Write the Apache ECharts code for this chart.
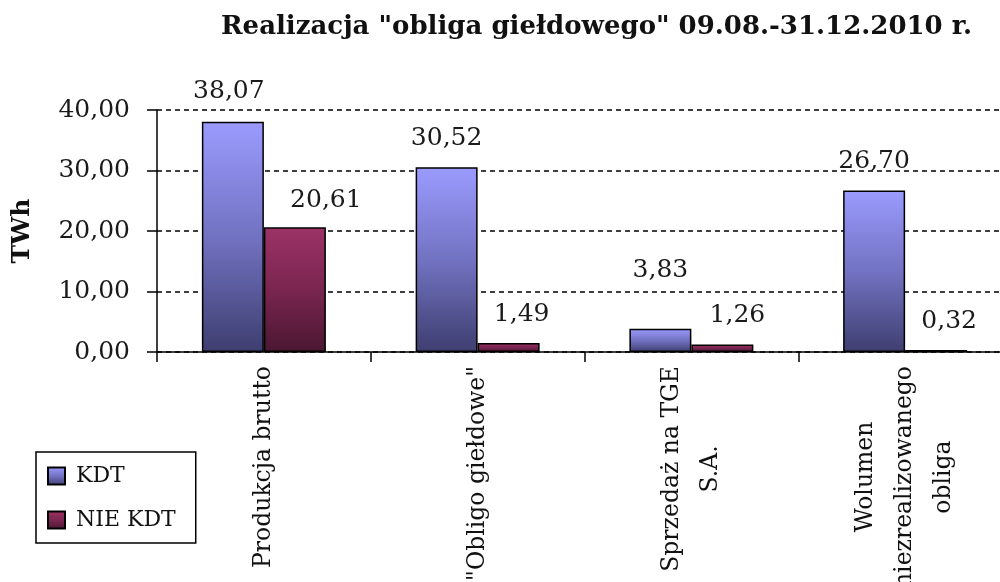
<!DOCTYPE html>
<html>
<head>
<meta charset="utf-8">
<script src="https://cdn.jsdelivr.net/npm/echarts@6/dist/echarts.min.js"></script>
<style>
html,body{margin:0;padding:0;background:#fff;}
#chart{width:1000px;height:582px;}
</style>
</head>
<body>
<div id="chart"></div>
<script>
const titleText = 'Realizacja "obliga giełdowego" 09.08.-31.12.2010 r.';
const categories = ['Produkcja brutto', '"Obligo giełdowe"', 'Sprzedaż na TGE\nS.A.', 'Wolumen\nniezrealizowanego\nobliga'];
const seriesNames = ['KDT', 'NIE KDT'];
const kdtValues = [38.07, 30.52, 3.83, 26.70];
const nieKdtValues = [20.61, 1.49, 1.26, 0.32];
const yMin = 0, yMax = 40, yStep = 10;

// label nudges (style only)
const kdtLabelShift = [[-4, -2], [0, 0], [0, -30], [0, 0]];
const nieLabelShift = [[31, 2], [13, 0], [15, 0], [13, 0]];

const FONT = 'DejaVu Serif';
const fmt = v => Number(v).toFixed(2).replace('.', ',');

function grad(top, mid, bottom) {
  return new echarts.graphic.LinearGradient(0, 0, 0, 1, [
    {offset: 0, color: top}, {offset: 0.5, color: mid}, {offset: 1, color: bottom}
  ]);
}

const chart = echarts.init(document.getElementById('chart'), null, {renderer: 'canvas'});
const labelBase = {
  show: true, position: 'top', distance: 16,
  fontFamily: FONT, fontSize: 25, color: '#1a1a1a',
  formatter: p => fmt(p.value)
};
chart.setOption({
  animation: false,
  backgroundColor: '#fff',
  title: {
    text: titleText, left: 216, top: 9,
    textStyle: {fontFamily: FONT, fontWeight: 'bold', fontSize: 26, color: '#111'}
  },
  legend: {
    orient: 'vertical', left: 36, top: 452,
    padding: [13, 20, 12, 11],
    itemWidth: 17, itemHeight: 17, itemGap: 22,
    borderColor: '#000', borderWidth: 1.5,
    icon: 'rect',
    textStyle: {fontFamily: FONT, fontSize: 22, color: '#111', padding: [0, 0, 0, 6]},
    data: seriesNames
  },
  grid: {left: 157, right: -12, top: 110, bottom: 230, containLabel: false, outerBoundsMode: 'none'},
  xAxis: {
    type: 'category', data: categories,
    axisLine: {lineStyle: {color: '#000', width: 1.5}},
    axisTick: {show: true, length: 10, lineStyle: {color: '#000', width: 1.5}},
    axisLabel: {
      rotate: 90, margin: 14, interval: 0,
      fontFamily: FONT, fontSize: 23.5, color: '#111',
      formatter: v => v.split('\n').map(l => '{c|' + l + '}').join('\n'),
      rich: {c: {align: 'center', fontFamily: FONT, fontSize: 23.5, lineHeight: 39, color: '#111'}}
    }
  },
  yAxis: {
    type: 'value', min: yMin, max: yMax, interval: yStep,
    name: 'TWh', nameLocation: 'middle', nameGap: 122, nameRotate: 90,
    nameTextStyle: {fontFamily: FONT, fontWeight: 'bold', fontSize: 25, color: '#111'},
    axisLine: {show: true, lineStyle: {color: '#000', width: 1.5}},
    axisTick: {show: true, length: 10, lineStyle: {color: '#000', width: 1.5}},
    axisLabel: {margin: 27, fontFamily: FONT, fontSize: 25, color: '#1a1a1a', formatter: v => fmt(v)},
    splitLine: {show: true, lineStyle: {color: '#000', type: [5, 4], width: 1.5}}
  },
  series: [
    {
      name: seriesNames[0], type: 'bar', barWidth: 62, barGap: '0%',
      itemStyle: {color: grad('#9b9bff', '#7272c2', '#3e3e70'), borderColor: '#000', borderWidth: 1.5},
      label: labelBase,
      data: kdtValues.map((v, i) => ({value: v, label: {offset: kdtLabelShift[i]}}))
    },
    {
      name: seriesNames[1], type: 'bar', barWidth: 62, barGap: '0%',
      itemStyle: {color: grad('#9c3366', '#7a2550', '#4a1731'), borderColor: '#000', borderWidth: 1.5},
      label: labelBase,
      data: nieKdtValues.map((v, i) => ({value: v, label: {offset: nieLabelShift[i]}}))
    }
  ]
});
</script>
</body>
</html>
